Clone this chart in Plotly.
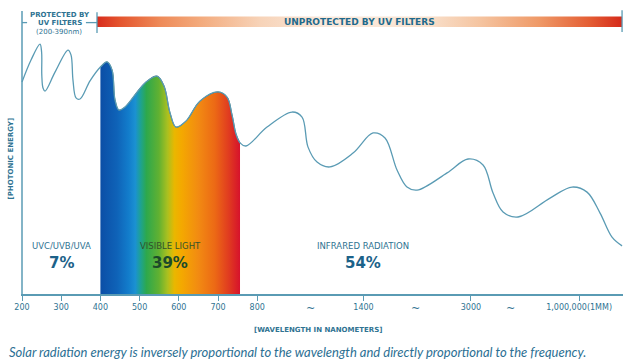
import plotly.graph_objects as go

# ---------------- data ----------------
# x positions are in "axis units": 200 nm = 0, each 100 nm = 1 in the linear part,
# the broken part (1400, 3000, 1 000 000) follows the picture's spacing
tick_pos = [0, 1, 2, 3, 4, 5, 6, 8.71, 11.45, 14.21]
tick_labels = ["200", "300", "400", "500", "600", "700", "800", "1400", "3000", "1,000,000(1MM)"]
break_pos = [7.35, 10.03, 12.45]

curve_x = [0.0, 0.23, 0.459, 0.50, 0.505, 0.536, 0.587, 0.842, 1.173, 1.25, 1.30, 1.378, 1.48, 1.735,
           2.0, 2.168, 2.296, 2.372, 2.474, 2.628, 3.138, 3.444, 3.622, 3.776, 3.929, 4.184, 4.541,
           5.0, 5.23, 5.357, 5.459, 5.561,
           5.714, 6.25, 6.888, 7.143, 7.296, 7.526, 7.857, 8.444, 8.954, 9.26, 9.566, 9.82, 10.077,
           10.842, 11.378, 11.76, 12.015, 12.27, 12.653, 13.469, 14.03, 14.413, 14.745, 15.05, 15.306]
curve_y = [74.9, 82.7, 88.3, 85.5, 77.4, 72.8, 71.7, 78.4, 86.2, 84.5, 75.6, 69.3, 68.9, 75.3,
           80.2, 82.0, 79.2, 68.6, 65.0, 66.1, 74.6, 77.0, 73.5, 64.0, 59.0, 61.1, 68.2,
           71.4, 69.6, 63.3, 56.5, 53.4,
           52.3, 59.0, 64.3, 62.5, 51.9, 46.6, 44.9, 49.8, 56.9, 55.1, 43.8, 37.8, 36.7,
           42.8, 47.7, 45.6, 35.7, 29.0, 27.2, 33.9, 37.8, 36.0, 28.6, 20.1, 17.0]

visible_start = 2.0
visible_end = 5.561

segment_names = ["UVC/UVB/UVA", "VISIBLE LIGHT", "INFRARED RADIATION"]
segment_share = [7, 39, 54]
segment_center = [0.995, 3.776, 8.71]
segment_name_color = ["#2f7392", "#34522a", "#2f7392"]
segment_pct_color = ["#1c6289", "#1b4a2a", "#1c6289"]

uv_filter_end = 1.913     # end of "protected" zone on the axis
axis_end = 15.306

rainbow = [[0.00, "#0b4ea6"], [0.12, "#0f63b8"], [0.20, "#127ccb"], [0.25, "#1b91d2"],
           [0.29, "#1ea38e"], [0.33, "#2da84c"], [0.42, "#62b131"], [0.48, "#a9c020"],
           [0.53, "#e9b700"], [0.58, "#f4a900"], [0.70, "#f28b12"], [0.82, "#ec6915"],
           [0.92, "#e03b20"], [1.00, "#d6122c"]]
bar_scale = [[0.00, "#d82c1c"], [0.044, "#e4552e"], [0.12, "#ee8a58"], [0.196, "#f3aa7c"],
             [0.31, "#f7d3b8"], [0.44, "#fae9dc"], [0.615, "#f9e4d2"], [0.73, "#f5c4a0"],
             [0.84, "#ef9a68"], [0.937, "#e45e34"], [1.00, "#d52a1a"]]

LINE = "#5a9bb4"
TXT = "#2f7392"
FONT = "DejaVu Sans"

fig = go.Figure()

# rainbow (visible light) fill
vis_x = [x for x in curve_x if visible_start <= x <= visible_end]
vis_y = [y for x, y in zip(curve_x, curve_y) if visible_start <= x <= visible_end]
fig.add_trace(go.Scatter(
    x=vis_x, y=vis_y, mode="lines", line=dict(width=0.8, color="#2e5b5a", shape="spline"),
    fill="tozeroy", fillgradient=dict(type="horizontal", colorscale=rainbow),
    hoverinfo="skip", showlegend=False))

# spectrum curve
fig.add_trace(go.Scatter(
    x=curve_x, y=curve_y, mode="lines",
    line=dict(width=1.3, color=LINE, shape="spline", smoothing=1.0),
    hoverinfo="skip", showlegend=False))

# top "unprotected" gradient bar
bar_top, bar_bot = 98.05, 94.35
fig.add_trace(go.Scatter(
    x=[uv_filter_end, axis_end, axis_end, uv_filter_end, uv_filter_end],
    y=[bar_top, bar_top, bar_bot, bar_bot, bar_top],
    mode="lines", line=dict(width=0), fill="toself",
    fillgradient=dict(type="horizontal", colorscale=bar_scale),
    hoverinfo="skip", showlegend=False))

shapes = [
    dict(type="line", xref="x", yref="y", x0=0, x1=0, y0=0, y1=100, line=dict(color=LINE, width=1.5)),
    dict(type="line", xref="x", yref="y", x0=0, x1=0.13, y0=95.9, y1=95.9, line=dict(color=LINE, width=1.3)),
    dict(type="line", xref="x", yref="y", x0=1.63, x1=uv_filter_end, y0=95.9, y1=95.9, line=dict(color=LINE, width=1.3)),
    dict(type="line", xref="x", yref="y", x0=uv_filter_end, x1=uv_filter_end, y0=92.2, y1=99.6, line=dict(color=LINE, width=1.3)),
    dict(type="line", xref="x", yref="y", x0=axis_end, x1=axis_end, y0=92.6, y1=100.3, line=dict(color=LINE, width=1.3)),
]

ann = []
for name, pct, cx, nc, pc in zip(segment_names, segment_share, segment_center, segment_name_color, segment_pct_color):
    ann.append(dict(x=cx, y=17.1, xref="x", yref="y", text=name, showarrow=False,
                    font=dict(family=FONT, size=8.5, color=nc)))
    ann.append(dict(x=cx, y=10.9, xref="x", yref="y", text=f"<b>{pct}%</b>", showarrow=False,
                    font=dict(family=FONT, size=15, color=pc)))

ann += [
    dict(x=0.97, y=98.6, xref="x", yref="y", text="<b>PROTECTED BY</b>", showarrow=False,
         font=dict(family=FONT, size=7, color=TXT)),
    dict(x=0.96, y=95.9, xref="x", yref="y", text="<b>UV FILTERS</b>", showarrow=False,
         font=dict(family=FONT, size=7, color=TXT)),
    dict(x=0.95, y=92.5, xref="x", yref="y", text="(200-390nm)", showarrow=False,
         font=dict(family=FONT, size=7, color=TXT)),
    dict(x=8.62, y=96.2, xref="x", yref="y", text="<b>UNPROTECTED BY UV FILTERS</b>", showarrow=False,
         font=dict(family=FONT, size=9, color="#1f6a8c")),
    dict(x=-0.0158, y=0.4706, xref="paper", yref="paper", xanchor="center", yanchor="middle",
         text="<b>[PHOTONIC ENERGY]</b>", textangle=-90,
         showarrow=False, font=dict(family=FONT, size=7, color=TXT)),
    dict(x=0.493, y=-0.1246, xref="paper", yref="paper", xanchor="center", yanchor="middle",
         text="<b>[WAVELENGTH IN NANOMETERS]</b>",
         showarrow=False, font=dict(family=FONT, size=7, color=TXT)),
    dict(x=-0.0233, y=-0.2007, xref="paper", yref="paper", xanchor="left", yanchor="middle",
         text="<i>Solar radiation energy is inversely proportional to the wavelength and directly proportional to the frequency.</i>",
         showarrow=False, font=dict(family="Lato", size=13, color="#2c6f93")),
]
for bp in break_pos:
    ann.append(dict(x=bp, y=-0.05, xref="x", yref="paper", xanchor="center", yanchor="middle",
                    text="~", showarrow=False, font=dict(family=FONT, size=11, color=TXT)))

fig.update_layout(
    width=640, height=363,
    margin=dict(l=21, r=17, t=5, b=69),
    paper_bgcolor="white", plot_bgcolor="white",
    shapes=shapes, annotations=ann,
    xaxis=dict(range=[-0.0255, 15.33], showgrid=False, zeroline=False, showline=True,
               linecolor=LINE, linewidth=1.5, ticks="outside", ticklen=5, tickwidth=1.2,
               tickcolor=LINE, tickvals=tick_pos, ticktext=tick_labels,
               tickfont=dict(family=FONT, size=8, color=TXT)),
    yaxis=dict(range=[0, 102.12], showgrid=False, zeroline=False, showline=False,
               showticklabels=False, ticks=""),
)

fig.write_html("out.html", config={"displayModeBar": False},
               post_script="document.body.style.margin='0';document.body.style.overflow='hidden';")
